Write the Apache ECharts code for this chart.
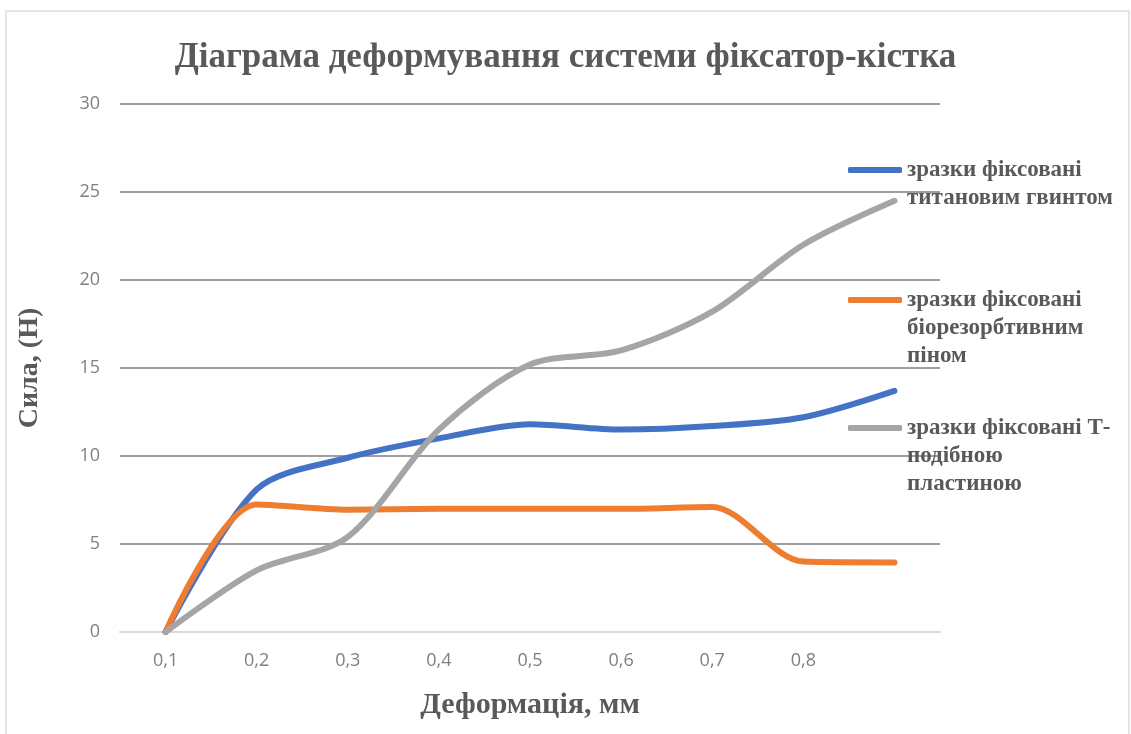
<!DOCTYPE html>
<html>
<head>
<meta charset="utf-8">
<script src="https://cdn.jsdelivr.net/npm/echarts@6/dist/echarts.min.js"></script>
<style>
  html, body { margin: 0; padding: 0; background: #fff; }
  #chart { width: 1131px; height: 734px; }
</style>
</head>
<body>
<div id="chart"></div>
<script>
// deformation, mm (last category has no label on the original axis)
var categories = ["0,1", "0,2", "0,3", "0,4", "0,5", "0,6", "0,7", "0,8", ""];
var yTicks = [0, 5, 10, 15, 20, 25, 30];

var titanScrew = [0, 8.1, 9.9, 11.0, 11.8, 11.5, 11.7, 12.2, 13.7];
var bioPin = [0, 7.25, 6.95, 7.0, 7.0, 7.0, 7.1, 4.0, 3.95];
var tPlate = [0, 3.5, 5.4, 11.5, 15.2, 16.0, 18.2, 22.0, 24.5];

var names = [
  "зразки фіксовані\nтитановим гвинтом",
  "зразки фіксовані\nбіорезорбтивним\nпіном",
  "зразки фіксовані Т-\nподібною\nпластиною"
];
var colors = ["#4472C4", "#ED7D31", "#A5A5A5"];

var serif = "'Liberation Serif', 'DejaVu Serif', serif";
var lineH = 28;

// one legend per item so the icon sits on the first text line
function legendFor(i, top) {
  return {
    orient: "vertical",
    left: 848,
    top: top,
    padding: 0,
    itemWidth: 54,
    itemHeight: 6,
    icon: "roundRect",
    data: [names[i]],
    formatter: function (name) {
      var n = name.split("\n").length;
      return new Array(n).join("\n") + name;
    },
    textStyle: {
      fontFamily: serif,
      fontWeight: "bold",
      fontSize: 23,
      lineHeight: lineH,
      color: "#595959"
    }
  };
}

function makeSeries(i, data) {
  return {
    name: names[i],
    type: "line",
    data: data,
    smooth: 0.3,
    symbol: "none",
    lineStyle: { width: 6, color: colors[i], cap: "round" },
    itemStyle: { color: colors[i] }
  };
}

var option = {
  animation: false,
  backgroundColor: "#fff",
  title: {
    text: "Діаграма деформування системи фіксатор-кістка",
    left: "center",
    top: 35,
    textStyle: {
      fontFamily: serif,
      fontWeight: "bold",
      fontSize: 35,
      color: "#595959"
    }
  },
  graphic: [{
    type: "rect",
    shape: { x: 6, y: 11, width: 1123, height: 740 },
    style: { fill: "none", stroke: "#e1e5ec", lineWidth: 2 },
    silent: true
  }],
  legend: [legendFor(0, 128), legendFor(1, 230), legendFor(2, 358)],
  grid: { left: 120, right: 191, top: 104, bottom: 102 },
  xAxis: {
    type: "category",
    data: categories,
    boundaryGap: true,
    name: "Деформація, мм",
    nameLocation: "middle",
    nameGap: 58,
    nameTextStyle: {
      fontFamily: serif,
      fontWeight: "bold",
      fontSize: 30,
      color: "#595959"
    },
    axisLine: { show: true, lineStyle: { color: "#d9d9d9", width: 2 } },
    axisTick: { show: false },
    axisLabel: {
      margin: 20,
      fontFamily: "'Open Sans', sans-serif",
      fontSize: 18,
      color: "#7f7f7f"
    },
    splitLine: { show: false }
  },
  yAxis: {
    type: "value",
    min: yTicks[0],
    max: yTicks[yTicks.length - 1],
    interval: yTicks[1] - yTicks[0],
    name: "Сила, (Н)",
    nameLocation: "middle",
    nameGap: 76,
    nameTextStyle: {
      fontFamily: serif,
      fontWeight: "bold",
      fontSize: 28,
      color: "#595959"
    },
    axisLine: { show: false },
    axisTick: { show: false },
    axisLabel: {
      margin: 20,
      fontFamily: "'Open Sans', sans-serif",
      fontSize: 18,
      color: "#7f7f7f"
    },
    splitLine: { show: true, lineStyle: { color: "#7f7f7f", width: 1.5 } }
  },
  series: [
    makeSeries(0, titanScrew),
    makeSeries(1, bioPin),
    makeSeries(2, tPlate)
  ]
};

var myChart = echarts.init(document.getElementById("chart"));
myChart.setOption(option);
window.addEventListener("resize", function () { myChart.resize(); });
</script>
</body>
</html>
